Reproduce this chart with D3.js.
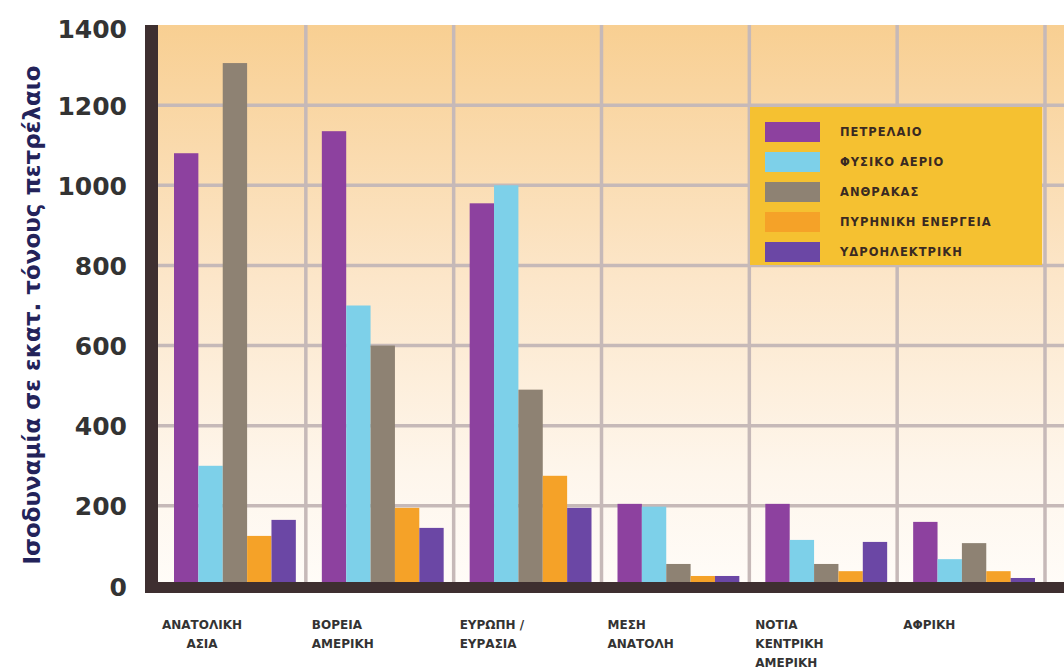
<!DOCTYPE html>
<html><head><meta charset="utf-8">
<script src="https://cdn.jsdelivr.net/npm/d3@7"></script>
<style>html,body{margin:0;padding:0;background:#fff;}svg{display:block;}</style>
</head><body>
<svg id="chart" width="1064" height="670"></svg>
<script>
const categories = [["ΑΝΑΤΟΛΙΚΗ","ΑΣΙΑ"],["ΒΟΡΕΙΑ","ΑΜΕΡΙΚΗ"],["ΕΥΡΩΠΗ /","ΕΥΡΑΣΙΑ"],["ΜΕΣΗ","ΑΝΑΤΟΛΗ"],["ΝΟΤΙΑ","ΚΕΝΤΡΙΚΗ","ΑΜΕΡΙΚΗ"],["ΑΦΡΙΚΗ"]];
const seriesNames = ["ΠΕΤΡΕΛΑΙΟ","ΦΥΣΙΚΟ ΑΕΡΙΟ","ΑΝΘΡΑΚΑΣ","ΠΥΡΗΝΙΚΗ ΕΝΕΡΓΕΙΑ","ΥΔΡΟΗΛΕΚΤΡΙΚΗ"];
const petroleum = [1080, 1135, 955, 205, 205, 160];
const naturalGas = [300, 700, 1000, 198, 115, 67];
const coal = [1305, 600, 490, 55, 55, 107];
const nuclear = [125, 195, 275, 25, 37, 37];
const hydro = [165, 145, 195, 25, 110, 20];
const seriesValues = [petroleum, naturalGas, coal, nuclear, hydro];
const colors = ["#8D419F","#7DD0E9","#8E8273","#F5A228","#6B47A5"];
const yTicks = [0,200,400,600,800,1000,1200,1400];
const yTitle = "Ισοδυναμία σε εκατ. τόνους πετρέλαιο";

(function(){
const svg = d3.select("#chart");
const pL = 158, pR = 1064, pT = 25, pB = 586, bandEnd = 1045;
const catKeys = categories.map((c,i)=>"c"+i);
const x0 = d3.scaleBand().domain(catKeys).range([pL, bandEnd]).paddingInner(0).paddingOuter(0);
const x1 = d3.scaleBand().domain(seriesNames).range([16, x0.bandwidth()-10]).padding(0);
const y = d3.scaleLinear().domain([0,1400]).range([pB, pT]);

const defs = svg.append("defs");
const grad = defs.append("linearGradient").attr("id","bg").attr("x1",0).attr("y1",0).attr("x2",0).attr("y2",1);
grad.append("stop").attr("offset","0").attr("stop-color","#F8CF92");
grad.append("stop").attr("offset","0.45").attr("stop-color","#FCE6C9");
grad.append("stop").attr("offset","0.8").attr("stop-color","#FEF6EC");
grad.append("stop").attr("offset","1").attr("stop-color","#FFFCF8");

svg.append("rect").attr("x",pL).attr("y",pT).attr("width",pR-pL).attr("height",pB-pT).attr("fill","url(#bg)");

svg.append("g").selectAll("line").data(yTicks.filter(t=>t>0 && t<1400)).join("line")
  .attr("x1",pL).attr("x2",pR).attr("y1",d=>y(d)).attr("y2",d=>y(d))
  .attr("stroke","#C6B9B8").attr("stroke-width",3.5);
svg.append("g").selectAll("line").data(catKeys).join("line")
  .attr("x1",d=>x0(d)+x0.bandwidth()).attr("x2",d=>x0(d)+x0.bandwidth())
  .attr("y1",pT).attr("y2",pB)
  .attr("stroke","#C6B9B8").attr("stroke-width",3.5);

const groups = svg.append("g").selectAll("g").data(catKeys).join("g")
  .attr("transform",d=>`translate(${x0(d)},0)`);
groups.selectAll("rect").data((d,i)=>seriesNames.map((s,j)=>({s, v: seriesValues[j][i], c: colors[j]}))).join("rect")
  .attr("x",d=>x1(d.s)).attr("width",x1.bandwidth())
  .attr("y",d=>y(d.v)).attr("height",d=>y(0)-y(d.v))
  .attr("fill",d=>d.c);

svg.append("rect").attr("x",145).attr("y",pT).attr("width",13).attr("height",pB+7-pT).attr("fill","#3E2F30");
svg.append("rect").attr("x",145).attr("y",pB-4).attr("width",pR-145).attr("height",11).attr("fill","#3E2F30");

const yAxis = d3.axisLeft(y).tickValues(yTicks).tickFormat(d3.format("d")).tickSize(0).tickPadding(0);
const ya = svg.append("g").attr("transform","translate(127,0)").call(yAxis);
ya.select(".domain").remove();
ya.selectAll("text").attr("font-family","DejaVu Sans").attr("font-weight","bold").attr("font-size",25).attr("fill","#333").attr("dy","0.36em");
ya.selectAll(".tick").filter(d=>d===1400).select("text").attr("dy","0.5em");

svg.append("text").attr("transform","translate(40,315) rotate(-90)")
  .attr("text-anchor","middle").attr("font-family","DejaVu Sans").attr("font-weight","bold")
  .attr("font-size",23).attr("fill","#23235A").text(yTitle);

const lab = svg.append("g");
categories.forEach((lines,i)=>{
  const k = catKeys[i];
  const first = i===0;
  const t = lab.append("text").attr("font-family","DejaVu Sans").attr("font-weight","bold")
    .attr("font-size",12).attr("fill","#333")
    .attr("text-anchor", first ? "middle" : "start");
  lines.forEach((ln,li)=>{
    t.append("tspan").attr("x", first ? x0(k)+44 : x0(k)+6).attr("y", 629 + li*19).text(ln);
  });
});

const lg = svg.append("g");
lg.append("rect").attr("x",750).attr("y",107).attr("width",292).attr("height",158).attr("fill","#F5C131");
seriesNames.forEach((s,j)=>{
  const cy = 132 + j*30;
  lg.append("rect").attr("x",765).attr("y",cy-10).attr("width",55).attr("height",20).attr("fill",colors[j]);
  lg.append("text").attr("x",840).attr("y",cy).attr("dy","0.35em")
    .attr("font-family","DejaVu Sans").attr("font-weight","bold").attr("font-size",11.5)
    .attr("fill","#3A2A22").attr("letter-spacing",1).text(s);
});
})();
</script>
</body></html>
